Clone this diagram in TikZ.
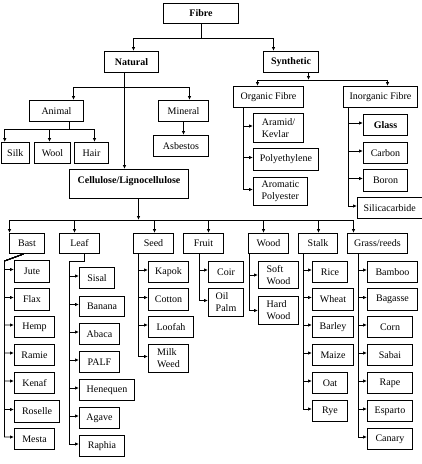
\documentclass[tikz,border=0pt]{standalone}
\usepackage{fontspec}
\setmainfont{Liberation Serif}
\usetikzlibrary{arrows.meta}

\begin{document}
\begin{tikzpicture}[
  x=1pt, y=-1pt,
  box/.style={draw, line width=1pt, anchor=north west, align=center, inner sep=1pt, minimum height=21pt},
  two/.style={align=left, minimum height=28pt},
  head/.style={font=\bfseries},
  arrow/.style={-{Latex[length=4pt,width=3.5pt]}, line width=0.8pt}
]
  \fill[white] (0,0) rectangle (422,464);
  \useasboundingbox (0,0) rectangle (422,464);

  \node[box, head, minimum width=75pt, minimum height=20pt] (fibre) at (163,3) {Fibre};
  \node[box, head, minimum width=54pt] (natural) at (104,51) {Natural};
  \node[box, head, minimum width=55pt] (synthetic) at (263,51) {Synthetic};
  \node[box, minimum width=54pt] (animal) at (29,100) {Animal};
  \node[box, minimum width=50pt] (mineral) at (158,100) {Mineral};
  \node[box, minimum width=28.5pt] (silk) at (0.5,142) {Silk};
  \node[box, minimum width=36pt] (wool) at (34,142) {Wool};
  \node[box, minimum width=34pt] (hair) at (74,142) {Hair};
  \node[box, minimum width=55pt] (asbestos) at (153,135) {Asbestos};
  \node[box, minimum width=70pt] (organic) at (233,86) {Organic Fibre};
  \node[box, minimum width=74pt] (inorganic) at (343,86) {Inorganic Fibre};
  \node[box, two, minimum width=50pt, minimum height=29pt] (aramid) at (253,113) {Aramid/\\Kevlar};
  \node[box, minimum width=65pt, minimum height=22pt] (polyeth) at (253,148) {Polyethylene};
  \node[box, two, minimum width=54pt] (aromatic) at (253,177) {Aromatic\\Polyester};
  \node[box, head, minimum width=44pt] (glass) at (363,114) {Glass};
  \node[box, minimum width=44pt] (carbon) at (363,142) {Carbon};
  \node[box, minimum width=44pt, minimum height=22pt] (boron) at (363,169) {Boron};
  \node[box, minimum width=64.5pt] (silica) at (357,197) {Silicacarbide};
  \node[box, head, minimum width=119pt, minimum height=29pt, text height=8pt, text depth=10pt] (cellulose) at (69,169) {Cellulose/Lignocellulose};

  \node[box, minimum width=35pt, minimum height=20pt] (bast) at (9,233) {Bast};
  \node[box, minimum width=40pt, minimum height=20pt] (leaf) at (59,233) {Leaf};
  \node[box, minimum width=40pt, minimum height=20pt] (seed) at (133,233) {Seed};
  \node[box, minimum width=40pt, minimum height=20pt] (fruit) at (183,233) {Fruit};
  \node[box, minimum width=40pt, minimum height=20pt] (wood) at (248,233) {Wood};
  \node[box, minimum width=39pt, minimum height=20pt] (stalk) at (298,233) {Stalk};
  \node[box, minimum width=60pt, minimum height=20pt] (grass) at (347,233) {Grass/reeds};

  \node[box, minimum width=35pt, minimum height=22pt] (jute) at (14,260) {Jute};
  \node[box, minimum width=35pt, minimum height=22pt] (flax) at (14,288) {Flax};
  \node[box, minimum width=40pt] (hemp) at (14,316) {Hemp};
  \node[box, minimum width=40pt] (ramie) at (14,344) {Ramie};
  \node[box, minimum width=40pt] (kenaf) at (14,372) {Kenaf};
  \node[box, minimum width=45pt, minimum height=22pt] (roselle) at (14,400) {Roselle};
  \node[box, minimum width=40pt] (mesta) at (14,428) {Mesta};

  \node[box, minimum width=35pt] (sisal) at (79,267) {Sisal};
  \node[box, minimum width=45pt, minimum height=20pt] (banana) at (79,296) {Banana};
  \node[box, minimum width=40pt] (abaca) at (79,323) {Abaca};
  \node[box, minimum width=40pt] (palf) at (79,351) {PALF};
  \node[box, minimum width=55pt] (henequen) at (79,379) {Henequen};
  \node[box, minimum width=40pt] (agave) at (79,407) {Agave};
  \node[box, minimum width=45pt] (raphia) at (79,435) {Raphia};

  \node[box, minimum width=40pt] (kapok) at (148,261) {Kapok};
  \node[box, minimum width=40pt, minimum height=22pt] (cotton) at (148,288) {Cotton};
  \node[box, minimum width=45pt] (loofah) at (148,316) {Loofah};
  \node[box, two, minimum width=40pt] (milkweed) at (148,344) {Milk\\Weed};

  \node[box, minimum width=35pt] (coir) at (208,261) {Coir};
  \node[box, two, minimum width=35pt] (oilpalm) at (208,288) {Oil\\Palm};

  \node[box, two, minimum width=40pt, minimum height=27pt] (softwood) at (258,261) {Soft\\Wood};
  \node[box, two, minimum width=40pt] (hardwood) at (258,296) {Hard\\Wood};

  \node[box, minimum width=35pt] (rice) at (312,261) {Rice};
  \node[box, minimum width=41pt, minimum height=22pt] (wheat) at (312,288) {Wheat};
  \node[box, minimum width=41pt] (barley) at (312,316) {Barley};
  \node[box, minimum width=41pt] (maize) at (312,344) {Maize};
  \node[box, minimum width=35pt] (oat) at (312,372) {Oat};
  \node[box, minimum width=35pt] (rye) at (312,400) {Rye};

  \node[box, minimum width=50pt] (bamboo) at (367,261) {Bamboo};
  \node[box, minimum width=50pt, minimum height=22pt] (bagasse) at (367,288) {Bagasse};
  \node[box, minimum width=45pt] (corn) at (367,316) {Corn};
  \node[box, minimum width=45pt] (sabai) at (367,344) {Sabai};
  \node[box, minimum width=45pt] (rape) at (367,372) {Rape};
  \node[box, minimum width=45pt] (esparto) at (367,400) {Esparto};
  \node[box, minimum width=45pt] (canary) at (367,428) {Canary};

  \draw[arrow] (fibre.south) -- ++(0,14) -| ([xshift=2pt]natural.north);
  \draw[arrow] (fibre.south) -- ++(0,14) -| ([xshift=-17.5pt]synthetic.north);

  \draw[arrow] ([xshift=-7pt]natural.south) -- ([xshift=-7pt]natural.south |- cellulose.north);
  \draw[arrow] ([xshift=-7pt]natural.south) ++(0,14) -| ([xshift=17pt]animal.north);
  \draw[arrow] ([xshift=-7pt]natural.south) ++(0,14) -| ([xshift=6pt]mineral.north);
  \draw[arrow] (mineral.south) -- (mineral.south |- asbestos.north);
  \foreach \c/\dx in {silk/-10.5,wool/-3,hair/3}
    \draw[arrow] ([xshift=13pt]animal.south) -- ++(0,7) -| ([xshift=\dx pt]\c.north);

  \draw[arrow] ([xshift=17.5pt]synthetic.south) -- ++(0,7);
  \draw[arrow] ([xshift=17.5pt]synthetic.south) ++(0,7) -| ([xshift=-11pt]organic.north);
  \draw[arrow] ([xshift=17.5pt]synthetic.south) ++(0,7) -| ([xshift=7pt]inorganic.north);
  \foreach \c in {aramid,polyeth,aromatic}
    \draw[arrow] ([xshift=10pt]organic.south west) |- ([yshift=2pt]\c.west);
  \foreach \c in {glass,carbon,boron,silica}
    \draw[arrow] ([xshift=5pt]inorganic.south west) |- ([yshift=2pt]\c.west);

  \draw[arrow] ([xshift=9.5pt]cellulose.south) -- ++(0,21);
  \foreach \c/\dx in {bast/-17.5,leaf/-5,seed/1,fruit/5,wood/-5,stalk/0.5,grass/-24}
    \draw[arrow] ([xshift=9.5pt]cellulose.south) ++(0,21) -| ([xshift=\dx pt]\c.north);

  \foreach \c in {jute,flax,hemp,ramie,kenaf,roselle,mesta}
    \draw[arrow] ([xshift=-3.5pt]bast.south) -- ++(-19,7) |- ([yshift=2pt]\c.west);
  \foreach \c in {sisal,banana,abaca,palf,henequen,agave,raphia}
    \draw[arrow] ([xshift=5pt]leaf.south) -- ++(0,7) -- ++(-15,0) |- ([yshift=2pt]\c.west);
  \foreach \c in {kapok,cotton,loofah,milkweed}
    \draw[arrow] ([xshift=5pt]seed.south west) |- ([yshift=2pt]\c.west);
  \foreach \c in {coir,oilpalm}
    \draw[arrow] ([xshift=-4pt]fruit.south) |- ([yshift=2pt]\c.west);
  \foreach \c in {softwood,hardwood}
    \draw[arrow] ([xshift=1pt]wood.south west) |- (\c.west);
  \foreach \c in {rice,wheat,barley,maize,oat,rye}
    \draw[arrow] ([xshift=5pt]stalk.south west) |- ([yshift=2pt]\c.west);
  \foreach \c in {bamboo,bagasse,corn,sabai,rape,esparto,canary}
    \draw[arrow] ([xshift=11pt]grass.south west) |- ([yshift=2pt]\c.west);
\end{tikzpicture}
\end{document}
